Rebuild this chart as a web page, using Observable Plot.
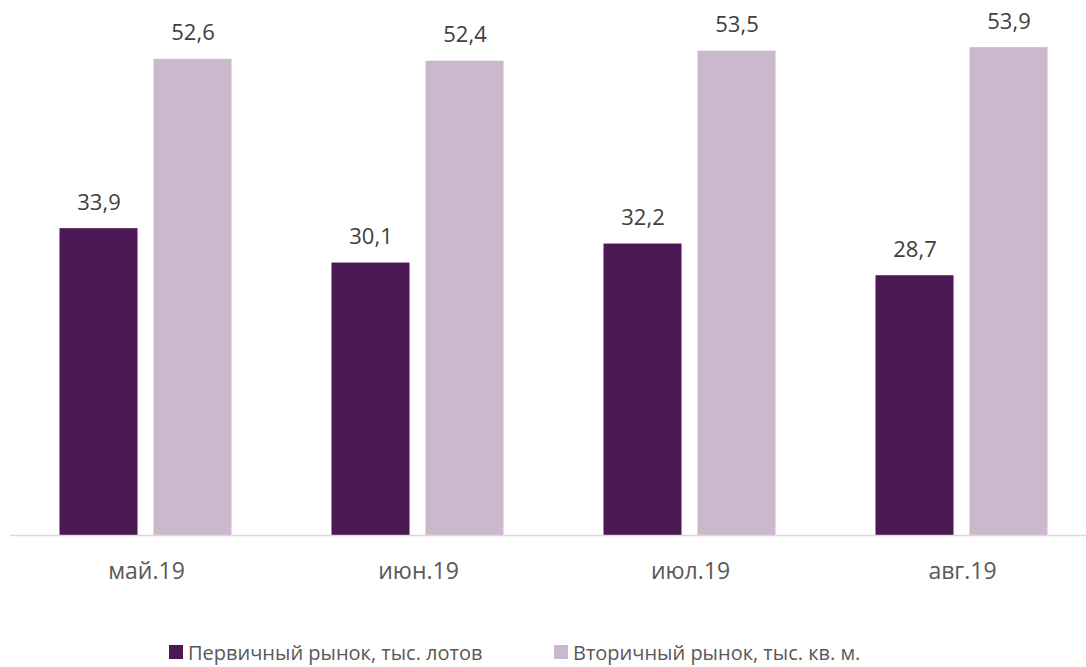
<!DOCTYPE html>
<html lang="ru">
<head>
<meta charset="utf-8">
<script src="https://cdn.jsdelivr.net/npm/d3@7"></script>
<script src="https://cdn.jsdelivr.net/npm/@observablehq/plot@0.6"></script>
<style>
  html, body { margin: 0; padding: 0; background: #ffffff; overflow: hidden; }
  body { width: 1086px; height: 667px; font-family: "Open Sans", sans-serif; }
  #chart { width: 1086px; overflow: hidden; }
  #chart svg { display: block; max-width: none !important; }
  #legend { position: relative; height: 30px; font-size: 20px; color: #595959; }
  .item { position: absolute; top: 0; height: 30px; display: flex; align-items: center; white-space: nowrap; }
  .swatch { width: 14px; height: 14px; margin-right: 5px; }
</style>
</head>
<body>
<div id="chart"></div>
<div id="legend"></div>
<script>
// Monthly volumes, primary vs secondary market
const months = ["май.19", "июн.19", "июл.19", "авг.19"];
const series = ["Первичный рынок, тыс. лотов", "Вторичный рынок, тыс. кв. м."];
const primary = [33.9, 30.1, 32.2, 28.7];
const secondary = [52.6, 52.4, 53.5, 53.9];
const colors = ["#4b1855", "#cbb8cd"];

const rows = months.flatMap((month, i) => [
  {month, series: series[0], value: primary[i]},
  {month, series: series[1], value: secondary[i]}
]);

const fmt = (v) => v.toFixed(1).replace(".", ",");

const chart = Plot.plot({
  width: 1098,
  height: 637,
  marginLeft: 9.5,
  marginRight: 0.5,
  marginTop: 10,
  marginBottom: 102,
  style: {fontFamily: "Open Sans, sans-serif", color: "#595959", background: "transparent", maxWidth: "none"},
  fx: {domain: months, padding: 0, label: null},
  x: {domain: series, paddingInner: 0.1702, paddingOuter: 0.5319, axis: null},
  y: {domain: [0, 58], axis: null},
  color: {domain: series, range: colors},
  marks: [
    Plot.barY(rows, {fx: "month", x: "series", y: "value", fill: "series"}),
    Plot.ruleY([0], {stroke: "#d9d9d9", strokeWidth: 1.3}),
    Plot.text(rows, {
      fx: "month", x: "series", y: "value",
      text: (d) => fmt(d.value),
      lineAnchor: "bottom", dy: -19,
      fontSize: 22, fill: "#404040"
    }),
    Plot.axisFx({anchor: "bottom", tickSize: 0, tickPadding: 27, fontSize: 23, label: null})
  ]
});
document.getElementById("chart").append(chart);

// Legend below the plot
const legend = document.getElementById("legend");
const starts = [169, 554];
series.forEach((name, i) => {
  const item = document.createElement("div");
  item.className = "item";
  item.style.left = starts[i] + "px";
  const sw = document.createElement("span");
  sw.className = "swatch";
  sw.style.background = colors[i];
  const label = document.createElement("span");
  label.textContent = name;
  item.append(sw, label);
  legend.append(item);
});
</script>
</body>
</html>
